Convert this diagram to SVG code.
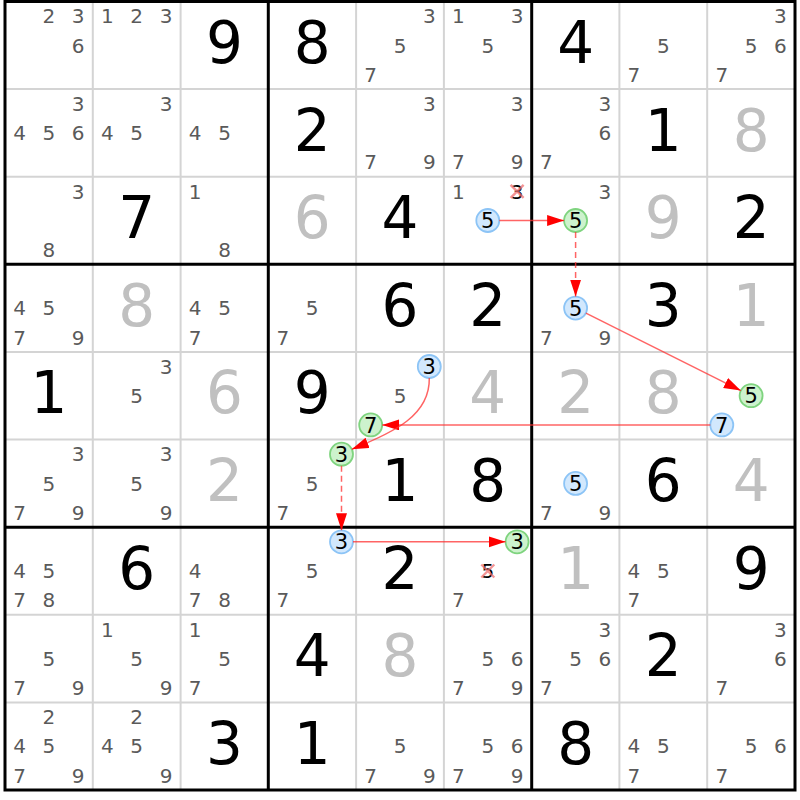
<svg xmlns="http://www.w3.org/2000/svg" width="800" height="800" viewBox="0 0 800 800">
<style>
text{font-family:"DejaVu Sans","Liberation Sans",sans-serif;text-anchor:middle}
.c{font-size:20px;fill:#5a5a5a}
.g{font-size:58px;fill:#000}
.s{font-size:58px;fill:#c0c0c0}
.m{font-size:21px;fill:#000}
.k{font-size:20px;fill:#000}
.thin{stroke:#d4d4d4;stroke-width:2}
.thick{stroke:#000;stroke-width:3}
.blue{fill:#d2e8fd;stroke:#8cc4f6;stroke-width:1.8}
.green{fill:#cdf2cd;stroke:#7fd47f;stroke-width:1.8}
.x{stroke:#f07070;stroke-opacity:0.75;stroke-width:2.4}
.link{fill:none;stroke:#ff3030;stroke-opacity:0.75;stroke-width:1.5}
.dash{stroke-dasharray:6,4}
</style>
<defs>
<marker id="ah" markerUnits="userSpaceOnUse" markerWidth="18" markerHeight="12" refX="17" refY="5.5" orient="auto">
<path d="M0,0 L17,5.5 L0,11 z" fill="#ff0000"/>
</marker>
</defs>
<rect x="0" y="0" width="800" height="800" fill="#fff"/>
<g id="grid">
<g class="thin">
<line x1="92.8" y1="1.5" x2="92.8" y2="790"/><line x1="180.6" y1="1.5" x2="180.6" y2="790"/>
<line x1="356.1" y1="1.5" x2="356.1" y2="790"/><line x1="443.9" y1="1.5" x2="443.9" y2="790"/>
<line x1="619.4" y1="1.5" x2="619.4" y2="790"/><line x1="707.2" y1="1.5" x2="707.2" y2="790"/>
<line x1="5" y1="89.1" x2="795" y2="89.1"/><line x1="5" y1="176.7" x2="795" y2="176.7"/>
<line x1="5" y1="351.9" x2="795" y2="351.9"/><line x1="5" y1="439.6" x2="795" y2="439.6"/>
<line x1="5" y1="614.8" x2="795" y2="614.8"/><line x1="5" y1="702.4" x2="795" y2="702.4"/>
</g>
<g class="thick">
<line x1="268.3" y1="1.5" x2="268.3" y2="790"/><line x1="531.7" y1="1.5" x2="531.7" y2="790"/>
<line x1="5" y1="264.3" x2="795" y2="264.3"/><line x1="5" y1="527.2" x2="795" y2="527.2"/>
<rect x="5" y="1.5" width="790" height="788.5" fill="none"/>
</g>
</g>

<g id="r0c0" transform="translate(5,1.5)"><text class="c" x="43.9" y="21.9">2</text><text class="c" x="73.2" y="21.9">3</text><text class="c" x="73.2" y="51.1">6</text></g>
<g id="r0c1" transform="translate(92.8,1.5)"><text class="c" x="14.6" y="21.9">1</text><text class="c" x="43.9" y="21.9">2</text><text class="c" x="73.2" y="21.9">3</text></g>
<g id="r0c2" transform="translate(180.6,1.5)"><text class="g" x="43.9" y="61.5">9</text></g>
<g id="r0c3" transform="translate(268.3,1.5)"><text class="g" x="43.9" y="61.5">8</text></g>
<g id="r0c4" transform="translate(356.1,1.5)"><text class="c" x="73.2" y="21.9">3</text><text class="c" x="43.9" y="51.1">5</text><text class="c" x="14.6" y="80.3">7</text></g>
<g id="r0c5" transform="translate(443.9,1.5)"><text class="c" x="14.6" y="21.9">1</text><text class="c" x="73.2" y="21.9">3</text><text class="c" x="43.9" y="51.1">5</text></g>
<g id="r0c6" transform="translate(531.7,1.5)"><text class="g" x="43.9" y="61.5">4</text></g>
<g id="r0c7" transform="translate(619.4,1.5)"><text class="c" x="43.9" y="51.1">5</text><text class="c" x="14.6" y="80.3">7</text></g>
<g id="r0c8" transform="translate(707.2,1.5)"><text class="c" x="73.2" y="21.9">3</text><text class="c" x="43.9" y="51.1">5</text><text class="c" x="73.2" y="51.1">6</text><text class="c" x="14.6" y="80.3">7</text></g>

<g id="r1c0" transform="translate(5,89.1)"><text class="c" x="73.2" y="21.9">3</text><text class="c" x="14.6" y="51.1">4</text><text class="c" x="43.9" y="51.1">5</text><text class="c" x="73.2" y="51.1">6</text></g>
<g id="r1c1" transform="translate(92.8,89.1)"><text class="c" x="73.2" y="21.9">3</text><text class="c" x="14.6" y="51.1">4</text><text class="c" x="43.9" y="51.1">5</text></g>
<g id="r1c2" transform="translate(180.6,89.1)"><text class="c" x="14.6" y="51.1">4</text><text class="c" x="43.9" y="51.1">5</text></g>
<g id="r1c3" transform="translate(268.3,89.1)"><text class="g" x="43.9" y="61.5">2</text></g>
<g id="r1c4" transform="translate(356.1,89.1)"><text class="c" x="73.2" y="21.9">3</text><text class="c" x="14.6" y="80.3">7</text><text class="c" x="73.2" y="80.3">9</text></g>
<g id="r1c5" transform="translate(443.9,89.1)"><text class="c" x="73.2" y="21.9">3</text><text class="c" x="14.6" y="80.3">7</text><text class="c" x="73.2" y="80.3">9</text></g>
<g id="r1c6" transform="translate(531.7,89.1)"><text class="c" x="73.2" y="21.9">3</text><text class="c" x="73.2" y="51.1">6</text><text class="c" x="14.6" y="80.3">7</text></g>
<g id="r1c7" transform="translate(619.4,89.1)"><text class="g" x="43.9" y="61.5">1</text></g>
<g id="r1c8" transform="translate(707.2,89.1)"><text class="s" x="43.9" y="61.5">8</text></g>

<g id="r2c0" transform="translate(5,176.7)"><text class="c" x="73.2" y="21.9">3</text><text class="c" x="43.9" y="80.3">8</text></g>
<g id="r2c1" transform="translate(92.8,176.7)"><text class="g" x="43.9" y="61.5">7</text></g>
<g id="r2c2" transform="translate(180.6,176.7)"><text class="c" x="14.6" y="21.9">1</text><text class="c" x="43.9" y="80.3">8</text></g>
<g id="r2c3" transform="translate(268.3,176.7)"><text class="s" x="43.9" y="61.5">6</text></g>
<g id="r2c4" transform="translate(356.1,176.7)"><text class="g" x="43.9" y="61.5">4</text></g>
<g id="r2c5" transform="translate(443.9,176.7)"><text class="c" x="14.6" y="21.9">1</text><text class="k" x="73.2" y="21.9">3</text><path class="x" d="M66.7,8.1 L79.7,21.1 M79.7,8.1 L66.7,21.1"/><circle class="blue" cx="43.9" cy="43.8" r="11.5"/><text class="m" x="43.9" y="51.5">5</text></g>
<g id="r2c6" transform="translate(531.7,176.7)"><text class="c" x="73.2" y="21.9">3</text><circle class="green" cx="43.9" cy="43.8" r="11.5"/><text class="m" x="43.9" y="51.5">5</text></g>
<g id="r2c7" transform="translate(619.4,176.7)"><text class="s" x="43.9" y="61.5">9</text></g>
<g id="r2c8" transform="translate(707.2,176.7)"><text class="g" x="43.9" y="61.5">2</text></g>

<g id="r3c0" transform="translate(5,264.3)"><text class="c" x="14.6" y="51.1">4</text><text class="c" x="43.9" y="51.1">5</text><text class="c" x="14.6" y="80.3">7</text><text class="c" x="73.2" y="80.3">9</text></g>
<g id="r3c1" transform="translate(92.8,264.3)"><text class="s" x="43.9" y="61.5">8</text></g>
<g id="r3c2" transform="translate(180.6,264.3)"><text class="c" x="14.6" y="51.1">4</text><text class="c" x="43.9" y="51.1">5</text><text class="c" x="14.6" y="80.3">7</text></g>
<g id="r3c3" transform="translate(268.3,264.3)"><text class="c" x="43.9" y="51.1">5</text><text class="c" x="14.6" y="80.3">7</text></g>
<g id="r3c4" transform="translate(356.1,264.3)"><text class="g" x="43.9" y="61.5">6</text></g>
<g id="r3c5" transform="translate(443.9,264.3)"><text class="g" x="43.9" y="61.5">2</text></g>
<g id="r3c6" transform="translate(531.7,264.3)"><circle class="blue" cx="43.9" cy="43.8" r="11.5"/><text class="m" x="43.9" y="51.5">5</text><text class="c" x="14.6" y="80.3">7</text><text class="c" x="73.2" y="80.3">9</text></g>
<g id="r3c7" transform="translate(619.4,264.3)"><text class="g" x="43.9" y="61.5">3</text></g>
<g id="r3c8" transform="translate(707.2,264.3)"><text class="s" x="43.9" y="61.5">1</text></g>

<g id="r4c0" transform="translate(5,351.9)"><text class="g" x="43.9" y="61.5">1</text></g>
<g id="r4c1" transform="translate(92.8,351.9)"><text class="c" x="73.2" y="21.9">3</text><text class="c" x="43.9" y="51.1">5</text></g>
<g id="r4c2" transform="translate(180.6,351.9)"><text class="s" x="43.9" y="61.5">6</text></g>
<g id="r4c3" transform="translate(268.3,351.9)"><text class="g" x="43.9" y="61.5">9</text></g>
<g id="r4c4" transform="translate(356.1,351.9)"><circle class="blue" cx="73.2" cy="14.6" r="11.5"/><text class="m" x="73.2" y="22.3">3</text><text class="c" x="43.9" y="51.1">5</text><circle class="green" cx="14.6" cy="73" r="11.5"/><text class="m" x="14.6" y="80.7">7</text></g>
<g id="r4c5" transform="translate(443.9,351.9)"><text class="s" x="43.9" y="61.5">4</text></g>
<g id="r4c6" transform="translate(531.7,351.9)"><text class="s" x="43.9" y="61.5">2</text></g>
<g id="r4c7" transform="translate(619.4,351.9)"><text class="s" x="43.9" y="61.5">8</text></g>
<g id="r4c8" transform="translate(707.2,351.9)"><circle class="green" cx="43.9" cy="43.8" r="11.5"/><text class="m" x="43.9" y="51.5">5</text><circle class="blue" cx="14.6" cy="73" r="11.5"/><text class="m" x="14.6" y="80.7">7</text></g>

<g id="r5c0" transform="translate(5,439.6)"><text class="c" x="73.2" y="21.9">3</text><text class="c" x="43.9" y="51.1">5</text><text class="c" x="14.6" y="80.3">7</text><text class="c" x="73.2" y="80.3">9</text></g>
<g id="r5c1" transform="translate(92.8,439.6)"><text class="c" x="73.2" y="21.9">3</text><text class="c" x="43.9" y="51.1">5</text><text class="c" x="73.2" y="80.3">9</text></g>
<g id="r5c2" transform="translate(180.6,439.6)"><text class="s" x="43.9" y="61.5">2</text></g>
<g id="r5c3" transform="translate(268.3,439.6)"><circle class="green" cx="73.2" cy="14.6" r="11.5"/><text class="m" x="73.2" y="22.3">3</text><text class="c" x="43.9" y="51.1">5</text><text class="c" x="14.6" y="80.3">7</text></g>
<g id="r5c4" transform="translate(356.1,439.6)"><text class="g" x="43.9" y="61.5">1</text></g>
<g id="r5c5" transform="translate(443.9,439.6)"><text class="g" x="43.9" y="61.5">8</text></g>
<g id="r5c6" transform="translate(531.7,439.6)"><circle class="blue" cx="43.9" cy="43.8" r="11.5"/><text class="m" x="43.9" y="51.5">5</text><text class="c" x="14.6" y="80.3">7</text><text class="c" x="73.2" y="80.3">9</text></g>
<g id="r5c7" transform="translate(619.4,439.6)"><text class="g" x="43.9" y="61.5">6</text></g>
<g id="r5c8" transform="translate(707.2,439.6)"><text class="s" x="43.9" y="61.5">4</text></g>

<g id="r6c0" transform="translate(5,527.2)"><text class="c" x="14.6" y="51.1">4</text><text class="c" x="43.9" y="51.1">5</text><text class="c" x="14.6" y="80.3">7</text><text class="c" x="43.9" y="80.3">8</text></g>
<g id="r6c1" transform="translate(92.8,527.2)"><text class="g" x="43.9" y="61.5">6</text></g>
<g id="r6c2" transform="translate(180.6,527.2)"><text class="c" x="14.6" y="51.1">4</text><text class="c" x="14.6" y="80.3">7</text><text class="c" x="43.9" y="80.3">8</text></g>
<g id="r6c3" transform="translate(268.3,527.2)"><circle class="blue" cx="73.2" cy="14.6" r="11.5"/><text class="m" x="73.2" y="22.3">3</text><text class="c" x="43.9" y="51.1">5</text><text class="c" x="14.6" y="80.3">7</text></g>
<g id="r6c4" transform="translate(356.1,527.2)"><text class="g" x="43.9" y="61.5">2</text></g>
<g id="r6c5" transform="translate(443.9,527.2)"><circle class="green" cx="73.2" cy="14.6" r="11.5"/><text class="m" x="73.2" y="22.3">3</text><text class="k" x="43.9" y="51.1">5</text><path class="x" d="M37.4,37.3 L50.4,50.3 M50.4,37.3 L37.4,50.3"/><text class="c" x="14.6" y="80.3">7</text></g>
<g id="r6c6" transform="translate(531.7,527.2)"><text class="s" x="43.9" y="61.5">1</text></g>
<g id="r6c7" transform="translate(619.4,527.2)"><text class="c" x="14.6" y="51.1">4</text><text class="c" x="43.9" y="51.1">5</text><text class="c" x="14.6" y="80.3">7</text></g>
<g id="r6c8" transform="translate(707.2,527.2)"><text class="g" x="43.9" y="61.5">9</text></g>

<g id="r7c0" transform="translate(5,614.8)"><text class="c" x="43.9" y="51.1">5</text><text class="c" x="14.6" y="80.3">7</text><text class="c" x="73.2" y="80.3">9</text></g>
<g id="r7c1" transform="translate(92.8,614.8)"><text class="c" x="14.6" y="21.9">1</text><text class="c" x="43.9" y="51.1">5</text><text class="c" x="73.2" y="80.3">9</text></g>
<g id="r7c2" transform="translate(180.6,614.8)"><text class="c" x="14.6" y="21.9">1</text><text class="c" x="43.9" y="51.1">5</text><text class="c" x="14.6" y="80.3">7</text></g>
<g id="r7c3" transform="translate(268.3,614.8)"><text class="g" x="43.9" y="61.5">4</text></g>
<g id="r7c4" transform="translate(356.1,614.8)"><text class="s" x="43.9" y="61.5">8</text></g>
<g id="r7c5" transform="translate(443.9,614.8)"><text class="c" x="43.9" y="51.1">5</text><text class="c" x="73.2" y="51.1">6</text><text class="c" x="14.6" y="80.3">7</text><text class="c" x="73.2" y="80.3">9</text></g>
<g id="r7c6" transform="translate(531.7,614.8)"><text class="c" x="73.2" y="21.9">3</text><text class="c" x="43.9" y="51.1">5</text><text class="c" x="73.2" y="51.1">6</text><text class="c" x="14.6" y="80.3">7</text></g>
<g id="r7c7" transform="translate(619.4,614.8)"><text class="g" x="43.9" y="61.5">2</text></g>
<g id="r7c8" transform="translate(707.2,614.8)"><text class="c" x="73.2" y="21.9">3</text><text class="c" x="73.2" y="51.1">6</text><text class="c" x="14.6" y="80.3">7</text></g>

<g id="r8c0" transform="translate(5,702.4)"><text class="c" x="43.9" y="21.9">2</text><text class="c" x="14.6" y="51.1">4</text><text class="c" x="43.9" y="51.1">5</text><text class="c" x="14.6" y="80.3">7</text><text class="c" x="73.2" y="80.3">9</text></g>
<g id="r8c1" transform="translate(92.8,702.4)"><text class="c" x="43.9" y="21.9">2</text><text class="c" x="14.6" y="51.1">4</text><text class="c" x="43.9" y="51.1">5</text><text class="c" x="73.2" y="80.3">9</text></g>
<g id="r8c2" transform="translate(180.6,702.4)"><text class="g" x="43.9" y="61.5">3</text></g>
<g id="r8c3" transform="translate(268.3,702.4)"><text class="g" x="43.9" y="61.5">1</text></g>
<g id="r8c4" transform="translate(356.1,702.4)"><text class="c" x="43.9" y="51.1">5</text><text class="c" x="14.6" y="80.3">7</text><text class="c" x="73.2" y="80.3">9</text></g>
<g id="r8c5" transform="translate(443.9,702.4)"><text class="c" x="43.9" y="51.1">5</text><text class="c" x="73.2" y="51.1">6</text><text class="c" x="14.6" y="80.3">7</text><text class="c" x="73.2" y="80.3">9</text></g>
<g id="r8c6" transform="translate(531.7,702.4)"><text class="g" x="43.9" y="61.5">8</text></g>
<g id="r8c7" transform="translate(619.4,702.4)"><text class="c" x="14.6" y="51.1">4</text><text class="c" x="43.9" y="51.1">5</text><text class="c" x="14.6" y="80.3">7</text></g>
<g id="r8c8" transform="translate(707.2,702.4)"><text class="c" x="43.9" y="51.1">5</text><text class="c" x="73.2" y="51.1">6</text><text class="c" x="14.6" y="80.3">7</text></g>

<g id="connectors">
<path class="link" d="M499.3,220.5 L564.1,220.5" marker-end="url(#ah)"/>
<path class="link dash" d="M575.6,232 L575.6,296.6" marker-end="url(#ah)"/>
<path class="link" d="M585.9,313.2 L740.8,390.6" marker-end="url(#ah)"/>
<path class="link" d="M710.3,424.9 L382.2,424.9" marker-end="url(#ah)"/>
<path class="link" d="M429.3,378 C430,415 395,432 351.8,449.2" marker-end="url(#ah)"/>
<path class="link dash" d="M341.5,465.7 L341.5,530.3" marker-end="url(#ah)"/>
<path class="link" d="M353,541.8 L505.6,541.8" marker-end="url(#ah)"/>
</g>
</svg>
